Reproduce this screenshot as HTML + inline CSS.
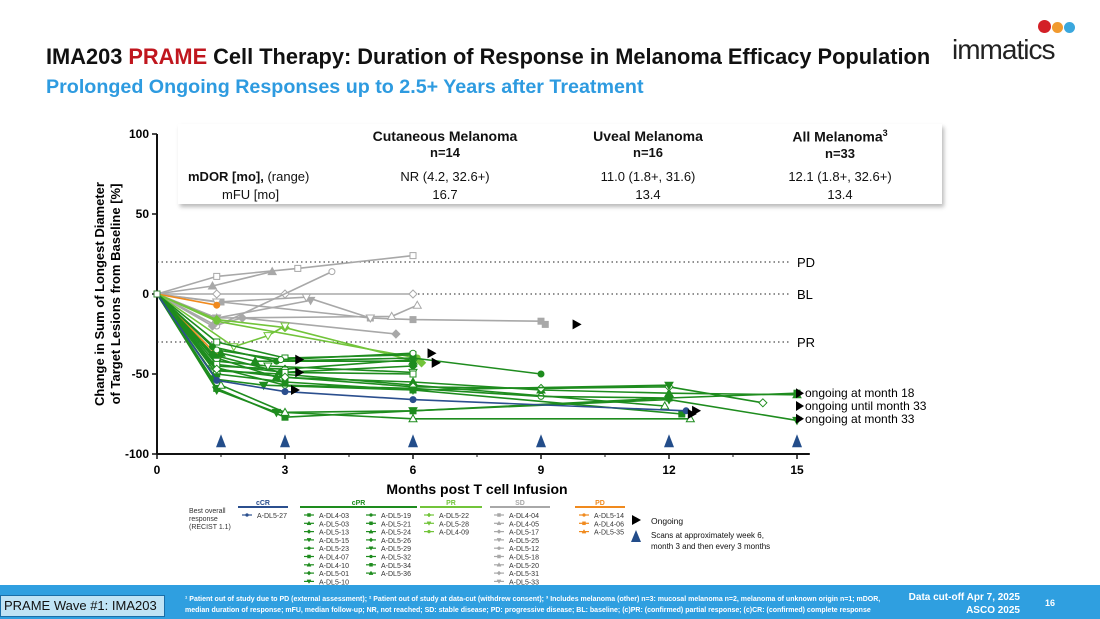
<!DOCTYPE html>
<html><head><meta charset="utf-8">
<style>
body{margin:0;width:1100px;height:619px;overflow:hidden;background:#fff;font-family:"Liberation Sans",sans-serif;position:relative}
.abs{position:absolute}
#title{left:46px;top:44px;font-size:21.8px;font-weight:bold;color:#111;white-space:nowrap}
#sub{left:46px;top:76px;font-size:19.7px;font-weight:bold;color:#2e9be0;white-space:nowrap}
#tbl{left:178px;top:124px;width:764px;height:80px;background:#fff;box-shadow:2px 3px 4px #bbb;font-size:13px;color:#111}
.c{position:absolute;text-align:center;width:200px}
#footer{left:0;top:585px;width:1100px;height:34px;background:#2f9fe0}
#wave{left:0;top:595px;width:165px;height:22px;background:#bfe3f5;border:1px solid #1a6ea8;font-size:13px;line-height:20px;padding-left:3px;box-sizing:border-box;color:#111;white-space:nowrap;overflow:hidden}
.fn{color:#fff;font-size:7px;font-weight:bold}
</style></head><body>
<div class="abs" id="title">IMA203 <span style="color:#c0161e">PRAME</span> Cell Therapy: Duration of Response in Melanoma Efficacy Population</div>
<div class="abs" id="sub">Prolonged Ongoing Responses up to 2.5+ Years after Treatment</div>
<div class="abs" style="left:950px;top:18px;width:140px;height:50px">
 <div class="abs" style="left:88px;top:2px;width:13px;height:13px;border-radius:50%;background:#d32027"></div>
 <div class="abs" style="left:102px;top:4px;width:11px;height:11px;border-radius:50%;background:#f19a2f"></div>
 <div class="abs" style="left:114px;top:4px;width:11px;height:11px;border-radius:50%;background:#3aa7dd"></div>
 <div class="abs" style="left:2px;top:16px;font-size:28px;color:#222;letter-spacing:-1px">immatics</div>
</div>
<div class="abs" id="tbl">
 <div class="c" style="left:167px;top:4px;font-size:14px;font-weight:bold">Cutaneous Melanoma<br><span style="font-size:13px">n=14</span></div>
 <div class="c" style="left:370px;top:4px;font-size:14px;font-weight:bold">Uveal Melanoma<br><span style="font-size:13px">n=16</span></div>
 <div class="c" style="left:562px;top:4px;font-size:14px;font-weight:bold">All Melanoma<sup style="font-size:9px">3</sup><br><span style="font-size:13px">n=33</span></div>
 <div class="abs" style="left:10px;top:45px"><b>mDOR [mo],</b> (range)</div>
 <div class="abs" style="left:44px;top:63px">mFU [mo]</div>
 <div class="c" style="left:167px;top:45px">NR (4.2, 32.6+)</div>
 <div class="c" style="left:370px;top:45px">11.0 (1.8+, 31.6)</div>
 <div class="c" style="left:562px;top:45px">12.1 (1.8+, 32.6+)</div>
 <div class="c" style="left:167px;top:63px">16.7</div>
 <div class="c" style="left:370px;top:63px">13.4</div>
 <div class="c" style="left:562px;top:63px">13.4</div>
</div>
<svg class="abs" style="left:0;top:0" width="1100" height="619" id="chart"></svg>
<div class="abs" id="footer"></div>
<div class="abs" id="wave">PRAME Wave #1: IMA203</div>
<div class="abs fn" style="left:185px;top:594px;width:700px;line-height:11px">¹ Patient out of study due to PD (external assessment); ² Patient out of study at data-cut (withdrew consent); ³ Includes melanoma (other) n=3: mucosal melanoma n=2, melanoma of unknown origin n=1; mDOR, median duration of response; mFU, median follow-up; NR, not reached; SD: stable disease; PD: progressive disease; BL: baseline; (c)PR: (confirmed) partial response; (c)CR: (confirmed) complete response</div>
<div class="abs" style="left:890px;top:591px;color:#fff;font-size:10px;font-weight:bold;text-align:right;width:130px;line-height:13px;white-space:nowrap">Data cut-off Apr 7, 2025<br>ASCO 2025</div>
<div class="abs" style="left:1045px;top:598px;color:#fff;font-size:9px;font-weight:bold">16</div>
<script>
const xTicks=[0,3,6,9,12,15];
const yTicks=[100,50,0,-50,-100];
const scanMonths=[1.5,3,6,9,12,15];
const refLines=[{v:20,l:"PD"},{v:0,l:"BL"},{v:-30,l:"PR"}];
const groups=["cCR","cPR","PR","SD","PD"];
const groupColors=["#2b4f8e","#1e8c1e","#72c43a","#a8a8a8","#f08a1e"];
const patientIds=["A-DL5-27","A-DL4-03","A-DL5-03","A-DL5-13","A-DL5-15","A-DL5-23","A-DL4-07","A-DL4-10","A-DL5-01","A-DL5-10","A-DL5-19","A-DL5-21","A-DL5-24","A-DL5-26","A-DL5-29","A-DL5-32","A-DL5-34","A-DL5-36","A-DL5-22","A-DL5-28","A-DL4-09","A-DL4-04","A-DL4-05","A-DL5-17","A-DL5-25","A-DL5-12","A-DL5-18","A-DL5-20","A-DL5-31","A-DL5-33","A-DL5-14","A-DL4-06","A-DL5-35"];
const patientGroup=[0,1,1,1,1,1,1,1,1,1,1,1,1,1,1,1,1,1,2,2,2,3,3,3,3,3,3,3,3,3,4,4,4];
const patientMonths=[
[0,1.4,3.0,6.0,12.4],[0,1.4,3.0,6.0],[0,1.4,2.8,6.0,9.0,12.0,15.0],[0,1.3,3.0,6.0],[0,1.4,2.8,6.0,12.0,15.0],
[0,1.4,3.0,6.0,9.0,12.0],[0,1.4,3.0,6.0,12.3],[0,1.4,2.9,6.0,11.9],[0,1.3,2.9,6.0],[0,1.4,2.6,6.0],
[0,1.3,2.8,6.0,9.0],[0,1.4,3.0,6.0],[0,1.5,2.3,6.0],[0,1.4,3.0,6.0,9.0,12.0,14.2],[0,1.3,2.5,6.0,12.0],
[0,1.4,2.9,6.0],[0,1.4,3.0,6.0,12.0,15.0],[0,1.5,3.0,6.0,12.5],
[0,1.4,3.0,6.2],[0,1.8,2.6,3.0],[0,1.4,6.1],
[0,1.4,3.3,6.0],[0,1.3,2.7],[0,1.4,3.0,6.0],[0,1.4,3.6],[0,1.4,4.1],[0,1.5,5.0,6.0,9.0,9.1],[0,1.4,5.5,6.1],[0,1.3,2.0,5.6],[0,1.4,3.5,5.0],
[0,1.4],[0,1.4],[0,1.4]];
const patientValues=[
[0,-54,-61,-66,-73],[0,-30,-40,-38],[0,-40,-52,-55,-60,-62,-63],[0,-45,-47,-41],[0,-60,-74,-73,-66,-79],
[0,-46,-57,-59,-64,-65],[0,-50,-55,-60,-75],[0,-48,-50,-57,-70],[0,-38,-49,-45],[0,-42,-45,-49],
[0,-33,-42,-40,-50],[0,-44,-49,-50],[0,-37,-42,-42],[0,-47,-52,-58,-59,-58,-68],[0,-53,-57,-60,-57],
[0,-35,-41,-37],[0,-59,-77,-73,-65,-62],[0,-57,-74,-78,-78],
[0,-16,-21,-43],[0,-33,-26,-20],[0,-17,-40],
[0,11,16,24],[0,5,14],[0,0,0,0],[0,-15,-4],[0,-20,14],[0,-5,-15,-16,-17,-19],[0,-15,-14,-7],[0,-20,-15,-25],[0,-5,-2,-15],
[0,-7],[0,-40],[0,-38]];
const markerShapes=["circle","square","triangle","diamond","tri-down"];
const arrowAt=[[12.4,-73],[6.2,-37],[3.1,-41],[3.1,-49],[12.3,-75],[6.3,-43],[3.0,-60],[9.6,-19],[6.3,-43]];
const endLabels=[{m:15,v:-62,t:"ongoing at month 18"},{m:15,v:-70,t:"ongoing until month 33"},{m:15,v:-78,t:"ongoing at month 33"}];

const svg=document.getElementById('chart');
const NS="http://www.w3.org/2000/svg";
const X0=157,XW=42.667,Y0=294,YK=1.6;
function xs(m){return X0+m*XW;}
function ys(v){return Y0-v*YK;}
function mk(tag,attrs,parent){const e=document.createElementNS(NS,tag);for(const k in attrs)e.setAttribute(k,attrs[k]);(parent||svg).appendChild(e);return e;}
let ax=mk('line',{x1:X0,y1:ys(-100),x2:xs(15.3),y2:ys(-100),stroke:'#111','stroke-width':2});


let ay=mk('line',{x1:X0,y1:ys(100),x2:X0,y2:ys(-100),stroke:'#111','stroke-width':2});


xTicks.forEach(t=>{mk('line',{x1:xs(t),y1:ys(-100),x2:xs(t),y2:ys(-100)+5,stroke:'#111','stroke-width':1.5});
 let tx=mk('text',{x:xs(t),y:ys(-100)+20,'text-anchor':'middle','font-size':12,'font-weight':'bold'});tx.textContent=t;
 
 });
for(let t=1.5;t<15;t+=3)mk('line',{x1:xs(t),y1:ys(-100),x2:xs(t),y2:ys(-100)+3,stroke:'#111'});
yTicks.forEach(t=>{mk('line',{x1:X0-5,y1:ys(t),x2:X0,y2:ys(t),stroke:'#111','stroke-width':1.5});
 let tx=mk('text',{x:X0-8,y:ys(t)+4,'text-anchor':'end','font-size':12,'font-weight':'bold'});tx.textContent=t;
 
 });
let xt=mk('text',{x:477,y:494,'text-anchor':'middle','font-size':14,'font-weight':'bold'});xt.textContent="Months post T cell Infusion";


let yt=mk('text',{transform:'translate(104,294) rotate(-90)','text-anchor':'middle','font-size':13,'font-weight':'bold'});
yt.innerHTML='<tspan x="0" y="0">Change in Sum of Longest Diameter</tspan><tspan x="0" y="16">of Target Lesions from Baseline [%]</tspan>';


refLines.forEach(r=>{let l=mk('line',{x1:X0,y1:ys(r.v),x2:790,y2:ys(r.v),stroke:'#222','stroke-dasharray':'1.5 3'});
 
 
 let t=mk('text',{x:797,y:ys(r.v)+5,'font-size':13});t.textContent=r.l;
 
 });
function marker(x,y,shape,col,filled,g){const f=filled?col:'#fff';let e;
 if(shape=='circle')e=mk('circle',{cx:x,cy:y,r:3,fill:f,stroke:col},g);
 else if(shape=='square')e=mk('rect',{x:x-3,y:y-3,width:6,height:6,fill:f,stroke:col},g);
 else if(shape=='triangle')e=mk('polygon',{points:`${x},${y-4} ${x-4},${y+3} ${x+4},${y+3}`,fill:f,stroke:col},g);
 else if(shape=='diamond')e=mk('polygon',{points:`${x},${y-4} ${x+4},${y} ${x},${y+4} ${x-4},${y}`,fill:f,stroke:col},g);
 else e=mk('polygon',{points:`${x},${y+4} ${x-4},${y-3} ${x+4},${y-3}`,fill:f,stroke:col},g);return e;}
const order=[3,4,2,1,0];
order.forEach(go=>{patientIds.forEach((id,i)=>{if(patientGroup[i]!==go)return;
 const col=groupColors[go];const g=mk('g',{});
 
 
 const pts=patientMonths[i].map((m,j)=>xs(m)+','+ys(patientValues[i][j])).join(' ');
 mk('polyline',{points:pts,fill:'none',stroke:col,'stroke-width':1.6},g);
 const sh=markerShapes[i%5],filled=i%2==0;
 patientMonths[i].forEach((m,j)=>{if(j>0)marker(xs(m),ys(patientValues[i][j]),sh,col,filled,g);});
});});
marker(X0,Y0,'square','#3a8a3a',false,svg);
arrowAt.forEach(a=>{const x=xs(a[0])+6,y=ys(a[1]);let p=mk('polygon',{points:`${x},${y-5} ${x+9},${y} ${x},${y+5}`,fill:'#000'});
 
 });
endLabels.forEach(e=>{const x=xs(e.m)-1,y=ys(e.v);mk('polygon',{points:`${x},${y-5} ${x+8},${y} ${x},${y+5}`,fill:'#000'});
 let t=mk('text',{x:x+9,y:y+4,'font-size':12});t.textContent=e.t;
 
 });
scanMonths.forEach(m=>{const x=xs(m),y=ys(-92);let p=mk('polygon',{points:`${x},${y-7} ${x-5},${y+6} ${x+5},${y+6}`,fill:'#234d8a'});
 
 });
const lg=mk('g',{'font-size':7,fill:'#333'});


let bt=mk('text',{x:189,y:513},lg);bt.innerHTML='<tspan x="189" y="513">Best overall</tspan><tspan x="189" y="521">response</tspan><tspan x="189" y="529">(RECIST 1.1)</tspan>';
const colX=[238,300,420,490,575];const hdrW=[50,117,62,60,50];
groups.forEach((gname,gi)=>{const x=colX[gi],col=groupColors[gi];
 mk('line',{x1:x,y1:507,x2:x+hdrW[gi],y2:507,stroke:col,'stroke-width':2},lg);
 let t=mk('text',{x:x+hdrW[gi]/2,y:505,'text-anchor':'middle','font-weight':'bold',fill:col},lg);t.textContent=gname;});
const cnt=[0,0,0,0,0];
patientIds.forEach((id,i)=>{const g=patientGroup[i];let x=colX[g],k=cnt[g]++;
 if(g==1&&k>=9){x+=62;k-=9;}
 const y=517+k*8.3,col=groupColors[g];
 mk('line',{x1:x+4,y1:y-2,x2:x+14,y2:y-2,stroke:col,'stroke-width':1.2},lg);
 marker(x+9,y-2,markerShapes[i%5],col,true,lg).setAttribute('transform',`translate(${x+9},${y-2}) scale(0.5) translate(${-(x+9)},${-(y-2)})`);
 let t=mk('text',{x:x+19,y:y+1},lg);t.textContent=id;
 
 });
mk('polygon',{points:'632,515 632,525 641,520',fill:'#000'},lg);
let o=mk('text',{x:651,y:524,'font-size':8.5,fill:'#111'},lg);o.textContent='Ongoing';
mk('polygon',{points:'636,530 631,542 641,542',fill:'#234d8a'},lg);
let s=mk('text',{x:651,y:538,'font-size':8,fill:'#111'},lg);s.innerHTML='<tspan x="651" y="538">Scans at approximately week 6,</tspan><tspan x="651" y="549">month 3 and then every 3 months</tspan>';
</script>
</body></html>
